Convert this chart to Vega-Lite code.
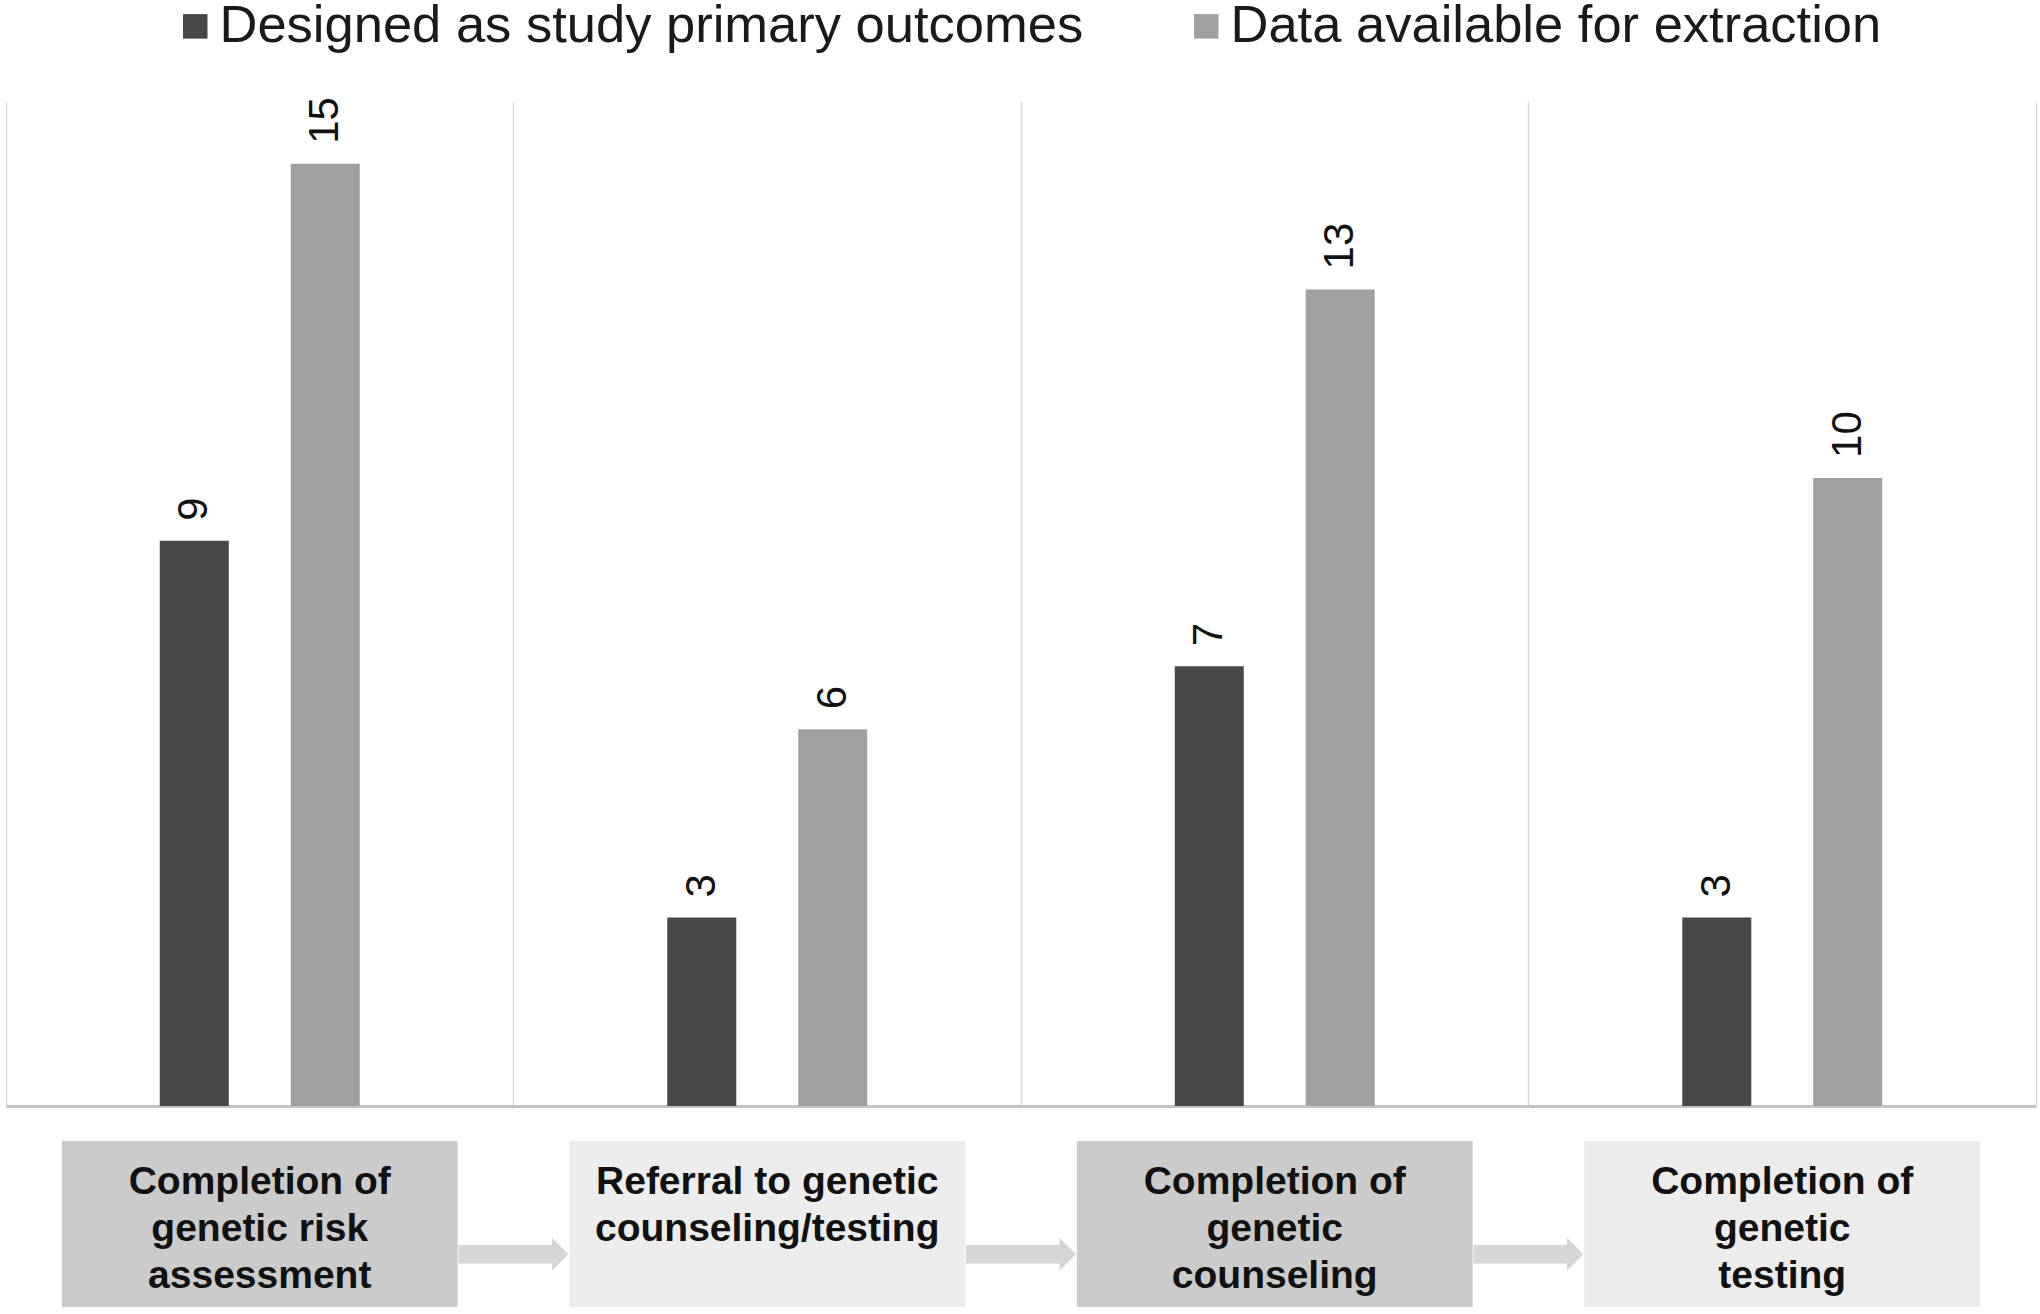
{
  "$schema": "https://vega.github.io/schema/vega-lite/v6.json",
  "padding": {"left": 6, "right": 4, "top": 0, "bottom": 6},
  "background": "white",
  "config": {"font": "Liberation Sans", "view": {"stroke": null}, "concat": {"spacing": 35}},
  "datasets": {
    "counts": [
      {"step": "Completion of genetic risk assessment", "series": "Designed as study primary outcomes", "count": 9},
      {"step": "Completion of genetic risk assessment", "series": "Data available for extraction", "count": 15},
      {"step": "Referral to genetic counseling/testing", "series": "Designed as study primary outcomes", "count": 3},
      {"step": "Referral to genetic counseling/testing", "series": "Data available for extraction", "count": 6},
      {"step": "Completion of genetic counseling", "series": "Designed as study primary outcomes", "count": 7},
      {"step": "Completion of genetic counseling", "series": "Data available for extraction", "count": 13},
      {"step": "Completion of genetic testing", "series": "Designed as study primary outcomes", "count": 3},
      {"step": "Completion of genetic testing", "series": "Data available for extraction", "count": 10}
    ],
    "steps": [
      {"step": "Completion of genetic risk assessment", "stage": 1, "label": ["Completion of", "genetic risk", "assessment"]},
      {"step": "Referral to genetic counseling/testing", "stage": 2, "label": ["Referral to genetic", "counseling/testing", ""]},
      {"step": "Completion of genetic counseling", "stage": 3, "label": ["Completion of", "genetic", "counseling"]},
      {"step": "Completion of genetic testing", "stage": 4, "label": ["Completion of", "genetic", "testing"]}
    ]
  },
  "vconcat": [
    {
      "width": 2030,
      "height": 1005,
      "data": {"name": "counts"},
      "encoding": {
        "x": {"field": "step", "type": "nominal", "sort": null,
          "scale": {"paddingInner": 0.606, "paddingOuter": 0.303},
          "axis": {"title": null, "labels": false, "ticks": false, "domain": true, "domainColor": "#c4c4c4", "domainWidth": 3, "grid": true, "gridColor": "#d9d9d9", "gridWidth": 1.5, "bandPosition": -0.769}},
        "xOffset": {"field": "series", "type": "nominal", "sort": ["Designed as study primary outcomes", "Data available for extraction"],
          "scale": {"paddingInner": 0.473, "paddingOuter": 0}},
        "y": {"field": "count", "type": "quantitative", "scale": {"domain": [0, 16], "nice": false},
          "axis": {"orient": "right", "title": null, "labels": false, "ticks": false, "grid": false, "domainColor": "#d9d9d9", "domainWidth": 1.5}}
      },
      "layer": [
        {
          "mark": {"type": "bar"},
          "encoding": {
            "color": {"field": "series", "type": "nominal",
              "sort": ["Designed as study primary outcomes", "Data available for extraction"],
              "scale": {"domain": ["Designed as study primary outcomes", "Data available for extraction"], "range": ["#474747", "#a0a0a0"]},
              "legend": {"title": null, "orient": "none", "direction": "horizontal", "legendX": 163, "legendY": -101,
                "symbolType": "square", "symbolSize": 600, "symbolStrokeWidth": 0, "labelFontSize": 52.5, "labelColor": "#1a1a1a",
                "labelOffset": -2, "columnPadding": 96, "labelLimit": 0, "padding": 0}}
          }
        },
        {
          "mark": {"type": "text", "angle": 270, "align": "left", "baseline": "middle", "dx": 20, "fontSize": 42, "color": "#111111"},
          "encoding": {"text": {"field": "count", "type": "quantitative"}}
        }
      ]
    },
    {
      "width": 2030,
      "height": 166,
      "data": {"name": "steps"},
      "encoding": {
        "x": {"field": "step", "type": "nominal", "sort": null, "scale": {"paddingInner": 0, "paddingOuter": 0}, "axis": null}
      },
      "layer": [
        {
          "transform": [{"filter": "datum.stage < 4"}],
          "mark": {"type": "point", "shape": "M-1,0.38L0.7,0.38L0.7,0.25L1,0.55L0.7,0.85L0.7,0.72L-1,0.72Z", "size": 12100, "filled": true, "color": "#d6d6d6", "opacity": 1, "strokeWidth": 0},
          "encoding": {"x": {"field": "step", "type": "nominal", "sort": null, "bandPosition": 1}}
        },
        {
          "mark": {"type": "bar", "width": {"band": 0.78}},
          "encoding": {
            "color": {"field": "step", "type": "nominal", "sort": null,
              "scale": {"range": ["#cbcbcb", "#ececec", "#cbcbcb", "#ececec"]}, "legend": null}
          }
        },
        {
          "mark": {"type": "text", "fontSize": 39, "fontWeight": "bold", "lineHeight": 47, "align": "center", "baseline": "middle", "dy": -42, "color": "#111111"},
          "encoding": {"text": {"field": "label", "type": "nominal"}}
        }
      ]
    }
  ],
  "resolve": {"scale": {"color": "independent", "x": "independent"}, "legend": {"color": "independent"}}
}
